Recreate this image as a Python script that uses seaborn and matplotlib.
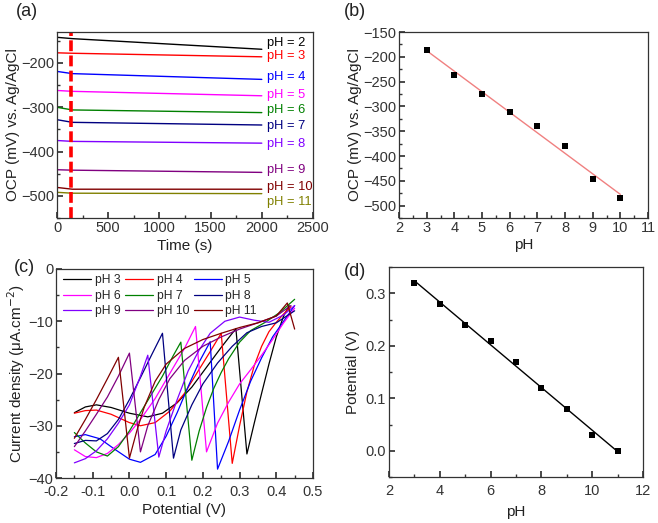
import numpy as np
import pandas as pd
import matplotlib

matplotlib.use("Agg")
import matplotlib.pyplot as plt
import seaborn as sns
from matplotlib.ticker import MultipleLocator

# (a) open circuit potential vs time, read at t = 0, 150, 2000 s
ocp_time = [0, 150, 2000]
ocp_traces = {
    2: [-142, -145, -169],
    3: [-177, -178, -186],
    4: [-219, -224, -237],
    5: [-262, -264, -274],
    6: [-300, -306, -312],
    7: [-328, -334, -340],
    8: [-375, -377, -381],
    9: [-441, -442, -447],
    10: [-481, -485, -485],
    11: [-492, -494, -495],
}
ocp_label_y = {2: -154, 3: -184, 4: -232, 5: -272, 6: -306, 7: -342,
               8: -382, 9: -441, 10: -480, 11: -515}
marker_time = 140

# (b) OCP vs pH
ocp_ph = [3, 4, 5, 6, 7, 8, 9, 10]
ocp_mean = [-187, -237, -274, -311, -340, -380, -447, -484]

# (c) current density vs potential
cv_potential = {
    3: [-0.15, -0.12, -0.09, -0.05, 0.00, 0.05, 0.09, 0.13, 0.17, 0.21, 0.25, 0.29,
        0.32, 0.34, 0.36, 0.38, 0.40, 0.42, 0.435],
    4: [-0.15, -0.12, -0.09, -0.05, 0.00, 0.03, 0.07, 0.11, 0.15, 0.19, 0.22, 0.25,
        0.28, 0.30, 0.32, 0.34, 0.36, 0.38, 0.40, 0.42, 0.44],
    5: [-0.15, -0.12, -0.08, -0.04, 0.00, 0.03, 0.07, 0.10, 0.13, 0.16, 0.19, 0.22,
        0.24, 0.27, 0.30, 0.33, 0.36, 0.39, 0.42, 0.45],
    6: [-0.15, -0.12, -0.09, -0.06, -0.03, 0.00, 0.03, 0.07, 0.11, 0.15, 0.18,
        0.21, 0.24, 0.27, 0.30, 0.33, 0.36, 0.39, 0.42, 0.45],
    7: [-0.15, -0.12, -0.09, -0.06, -0.03, 0.00, 0.03, 0.06, 0.09, 0.12, 0.14,
        0.17, 0.19, 0.21, 0.23, 0.25, 0.27, 0.30, 0.33, 0.37, 0.41, 0.45],
    8: [-0.15, -0.12, -0.09, -0.06, -0.03, 0.00, 0.03, 0.06, 0.09,
        0.12, 0.14, 0.17, 0.20, 0.24, 0.28, 0.32, 0.36, 0.40, 0.45],
    9: [-0.15, -0.12, -0.09, -0.06, -0.03, 0.00, 0.03, 0.05,
        0.08, 0.10, 0.13, 0.16, 0.19, 0.22, 0.26, 0.30, 0.34, 0.38, 0.42, 0.45],
    10: [-0.15, -0.12, -0.09, -0.06, -0.03, 0.00,
         0.03, 0.05, 0.08, 0.11, 0.15, 0.20, 0.25, 0.30, 0.35, 0.40, 0.44],
    11: [-0.15, -0.12, -0.09, -0.06, -0.03,
         0.00, 0.02, 0.04, 0.07, 0.10, 0.15, 0.20, 0.25, 0.30, 0.35, 0.40, 0.43, 0.45],
}
cv_current = {
    3: [-27.5, -26.4, -26.0, -26.5, -27.6, -28.3, -27.6, -25.6, -22.6, -18.8, -15.0, -11.4,
        -35.4, -29.5, -23.8, -18.2, -13.0, -9.0, -7.0],
    4: [-27.6, -27.1, -27.0, -27.8, -29.4, -30.0, -29.4, -27.2, -23.8, -19.2, -15.8, -12.3,
        -37.2, -30.0, -23.5, -18.5, -14.8, -12.0, -10.2, -8.6, -7.2],
    5: [-32.1, -31.7, -32.5, -34.5, -36.4, -37.0, -35.5, -32.0, -27.5, -22.5, -17.8, -13.9,
        -38.3, -33.0, -27.0, -21.5, -17.0, -13.0, -10.0, -7.0],
    6: [-34.6, -35.9, -36.1, -35.3, -33.6, -31.4, -28.8, -24.8, -20.0, -15.2, -11.0,
        -35.0, -29.5, -25.5, -22.0, -19.3, -16.5, -13.5, -10.3, -7.5],
    7: [-31.3, -33.3, -35.0, -35.8, -34.0, -31.0, -27.5, -24.0, -20.5, -16.5, -14.0,
        -36.6, -31.0, -26.5, -22.8, -19.8, -17.2, -14.0, -11.8, -10.2, -8.3, -5.8],
    8: [-33.4, -32.8, -32.9, -31.5, -28.8, -25.0, -20.8, -16.5, -12.3,
        -36.2, -30.8, -26.0, -22.0, -18.0, -14.8, -12.2, -11.0, -10.3, -8.0],
    9: [-37.1, -36.3, -34.8, -32.5, -29.5, -26.0, -20.5, -16.5,
        -36.0, -31.0, -25.0, -19.5, -15.5, -12.3, -10.0, -9.2, -9.8, -10.2, -8.8, -7.0],
    10: [-34.0, -31.0, -27.8, -24.5, -20.5, -16.1,
         -35.0, -30.0, -25.0, -21.0, -17.5, -14.8, -13.0, -11.5, -10.3, -9.0, -7.0],
    11: [-32.4, -28.8, -25.0, -21.0, -16.9,
         -36.2, -31.0, -26.5, -21.5, -18.2, -15.2, -13.5, -12.3, -11.2, -10.3, -9.0, -6.5, -11.5],
}

# (d) peak potential vs pH
peak_ph = [3, 4, 5, 6, 7, 8, 9, 10, 11]
peak_potential = [0.32, 0.28, 0.24, 0.21, 0.17, 0.12, 0.08, 0.03, 0.00]

ph_colors = {2: "#000000", 3: "#FF0000", 4: "#0000FF", 5: "#FF00FF", 6: "#008000",
             7: "#000080", 8: "#8000FF", 9: "#800080", 10: "#800000", 11: "#808000"}
cv_colors = {3: "#000000", 4: "#FF0000", 5: "#0000FF", 6: "#FF00FF", 7: "#008000",
             8: "#000080", 9: "#8000FF", 10: "#800080", 11: "#800000"}

sns.set_theme(style="ticks")
plt.rcParams["font.family"] = ["Liberation Sans", "DejaVu Sans"]
plt.rcParams.update({
    "xtick.direction": "in", "ytick.direction": "in",
    "xtick.labelsize": 10.5, "ytick.labelsize": 10.5,
    "axes.labelsize": 11, "axes.edgecolor": "#333333",
    "xtick.color": "#333333", "ytick.color": "#333333",
    "axes.labelcolor": "#222222", "axes.linewidth": 0.9,
    "xtick.major.size": 4, "ytick.major.size": 4,
    "xtick.minor.size": 2, "ytick.minor.size": 2,
    "xtick.major.pad": 2, "ytick.major.pad": 2,
})

W, H = 658, 523
fig = plt.figure(figsize=(W / 100, H / 100), dpi=100)


def box(x0, y0, x1, y1):
    return [x0 / W, 1 - y1 / H, (x1 - x0) / W, (y1 - y0) / H]


def frame(ax):
    for s in ax.spines.values():
        s.set_visible(True)
    ax.tick_params(which="both", top=False, right=False)


# (a)
ax_a = fig.add_axes(box(57, 32, 313, 218))
for ph, vals in ocp_traces.items():
    sns.lineplot(x=ocp_time, y=vals, ax=ax_a, color=ph_colors[ph], lw=1.0,
                 estimator=None, sort=False)
    ax_a.text(2050, ocp_label_y[ph], f"pH = {ph}", color=ph_colors[ph],
              fontsize=9.3, va="center", ha="left")
ax_a.axvline(marker_time, color="#FF0000", lw=2.6, ls=(0, (3.0, 1.2)))
ax_a.set_xlim(0, 2500)
ax_a.set_ylim(-550, -130)
ax_a.xaxis.set_major_locator(MultipleLocator(500))
ax_a.xaxis.set_minor_locator(MultipleLocator(250))
ax_a.yaxis.set_major_locator(MultipleLocator(100))
ax_a.yaxis.set_minor_locator(MultipleLocator(50))
ax_a.set_xlabel("Time (s)", labelpad=3)
ax_a.set_ylabel("OCP (mV) vs. Ag/AgCl", labelpad=1)
frame(ax_a)

# (b)
ax_b = fig.add_axes(box(399, 32, 648, 218))
fit_b = np.polyfit(ocp_ph, ocp_mean, 1)
fit_x = np.array([ocp_ph[0], ocp_ph[-1]])
sns.lineplot(x=fit_x, y=np.polyval(fit_b, fit_x), ax=ax_b, color="#F08080", lw=1.0)
sns.scatterplot(x=ocp_ph, y=ocp_mean, ax=ax_b, marker="s", s=22, color="black",
                edgecolor="black", linewidth=0, zorder=3)
ax_b.set_xlim(2, 11)
ax_b.set_ylim(-525, -150)
ax_b.xaxis.set_major_locator(MultipleLocator(1))
ax_b.xaxis.set_minor_locator(MultipleLocator(0.5))
ax_b.yaxis.set_major_locator(MultipleLocator(50))
ax_b.yaxis.set_minor_locator(MultipleLocator(25))
ax_b.set_xlabel("pH", labelpad=2)
ax_b.set_ylabel("OCP (mV) vs. Ag/AgCl", labelpad=1)
frame(ax_b)

# (c)
ax_c = fig.add_axes(box(56, 269, 313, 478))
for ph in cv_potential:
    sns.lineplot(x=cv_potential[ph], y=cv_current[ph], ax=ax_c, color=cv_colors[ph],
                 lw=0.9, estimator=None, sort=False, label=f"pH {ph}")
h, l = ax_c.get_legend_handles_labels()
order = [0, 3, 6, 1, 4, 7, 2, 5, 8]
ax_c.legend([h[i] for i in order], [l[i] for i in order], ncol=3, loc="upper left",
            bbox_to_anchor=(0.0, 1.01), frameon=False, fontsize=8.7, handlelength=2.3,
            handletextpad=0.3, columnspacing=0.4, labelspacing=0.3, borderaxespad=0.2)
ax_c.set_xlim(-0.2, 0.5)
ax_c.set_ylim(-40, 0)
ax_c.xaxis.set_minor_locator(MultipleLocator(0.05))
ax_c.yaxis.set_major_locator(MultipleLocator(10))
ax_c.yaxis.set_minor_locator(MultipleLocator(5))
ax_c.set_xticks(np.arange(-0.2, 0.51, 0.1))
ax_c.set_xticklabels(["-0.2", "-0.1", "0.0", "0.1", "0.2", "0.3", "0.4", "0.5"])
ax_c.tick_params(axis="x", pad=5)
ax_c.set_xlabel("Potential (V)", labelpad=3)
ax_c.set_ylabel("Current density (\u03bcA.cm$^{-2}$)", labelpad=1)
frame(ax_c)

# (d)
ax_d = fig.add_axes(box(389, 267, 643, 477))
fit_d = np.polyfit(peak_ph, peak_potential, 1)
fit_xd = np.array([peak_ph[0], peak_ph[-1]])
sns.lineplot(x=fit_xd, y=np.polyval(fit_d, fit_xd), ax=ax_d, color="black", lw=1.0)
sns.scatterplot(x=peak_ph, y=peak_potential, ax=ax_d, marker="s", s=22, color="black",
                edgecolor="black", linewidth=0, zorder=3)
ax_d.set_xlim(2, 12)
ax_d.set_ylim(-0.05, 0.35)
ax_d.xaxis.set_major_locator(MultipleLocator(2))
ax_d.xaxis.set_minor_locator(MultipleLocator(1))
ax_d.yaxis.set_minor_locator(MultipleLocator(0.05))
ax_d.set_yticks([0.0, 0.1, 0.2, 0.3])
ax_d.set_yticklabels(["0.0", "0.1", "0.2", "0.3"])
ax_d.tick_params(axis="x", pad=5)
ax_d.set_xlabel("pH", labelpad=5)
ax_d.set_ylabel("Potential (V)", labelpad=4)
frame(ax_d)

for txt, x, y in [("(a)", 27, 11), ("(b)", 355, 11), ("(c)", 24, 267), ("(d)", 355, 272)]:
    fig.text(x / W, 1 - y / H, txt, fontsize=13, ha="center", va="center", color="#222222")

fig.savefig("out.png", dpi=100)
plt.close(fig)
